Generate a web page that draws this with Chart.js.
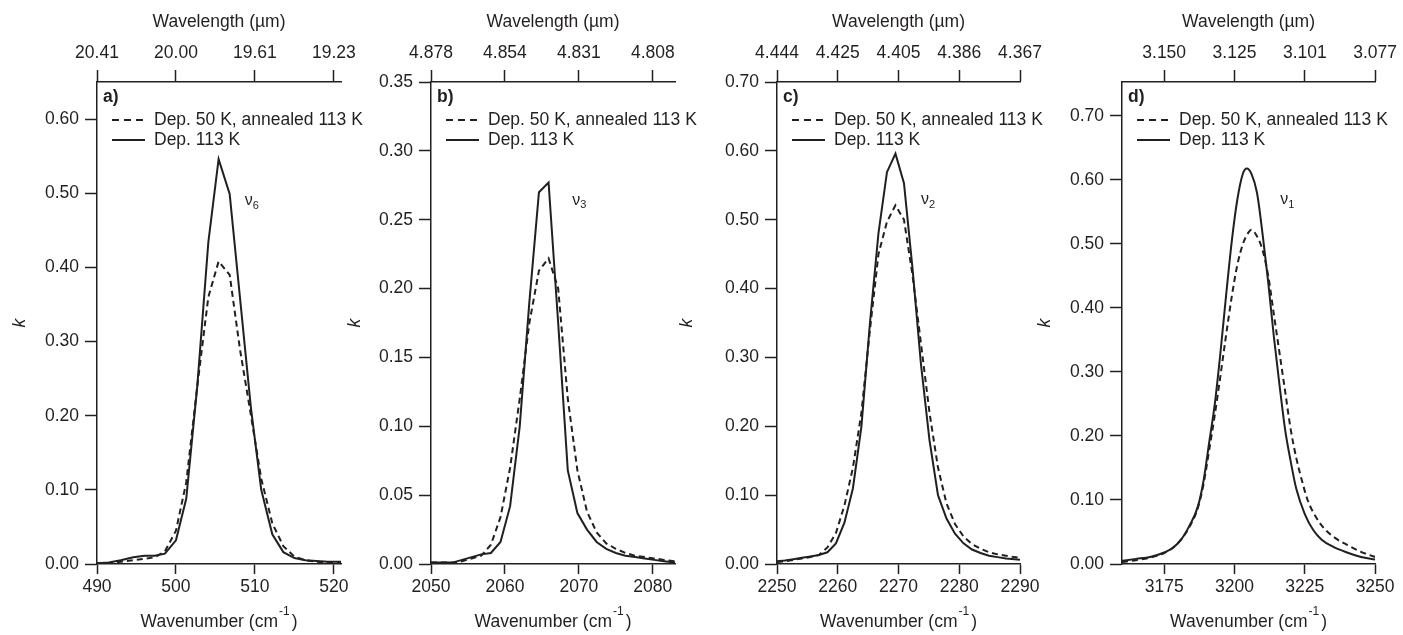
<!DOCTYPE html>
<html lang="en">
<head>
<meta charset="UTF-8">
<title>k spectra</title>
<style>
  body { margin: 0; background: #fff; }
  #wrap { position: relative; width: 1403px; height: 635px; }
  #wrap canvas { position: absolute; left: 0; top: 0; }
</style>
</head>
<body>
<div id="wrap">
  <canvas id="chartA" width="1403" height="635"></canvas>
  <canvas id="chartB" width="1403" height="635"></canvas>
  <canvas id="chartC" width="1403" height="635"></canvas>
  <canvas id="chartD" width="1403" height="635"></canvas>
</div>

<script src="https://cdn.jsdelivr.net/npm/chart.js"></script>
<script>
// ---- panel a (v6) ----
const aWn = [490.0, 491.5, 493.0, 494.6, 496.0, 497.3, 498.6, 500.0, 501.3, 502.7, 504.1, 505.4, 506.8, 508.1, 509.5, 510.8, 512.2, 513.6, 515.0, 516.4, 517.8, 519.2, 520.9];
const aAnneal = [0.001, 0.001, 0.003, 0.005, 0.007, 0.009, 0.017, 0.045, 0.11, 0.24, 0.36, 0.408, 0.39, 0.29, 0.20, 0.115, 0.055, 0.024, 0.010, 0.005, 0.003, 0.002, 0.002];
const aDep113 = [0.001, 0.002, 0.005, 0.009, 0.011, 0.011, 0.014, 0.032, 0.088, 0.24, 0.434, 0.546, 0.499, 0.36, 0.21, 0.10, 0.040, 0.016, 0.008, 0.005, 0.004, 0.003, 0.003];
const aXTicks = [490, 500, 510, 520];
const aTopLabels = ['20.41', '20.00', '19.61', '19.23'];
const aYTicks = [0, 0.1, 0.2, 0.3, 0.4, 0.5, 0.6];

// ---- panel b (v3) ----
const bWn = [2050.0, 2051.6, 2052.9, 2054.2, 2055.5, 2056.8, 2058.1, 2059.4, 2060.7, 2062.0, 2063.3, 2064.6, 2065.9, 2067.2, 2068.5, 2069.8, 2071.1, 2072.4, 2073.7, 2075.0, 2076.3, 2077.6, 2078.9, 2080.2, 2081.5, 2083.0];
const bAnneal = [0.001, 0.001, 0.001, 0.002, 0.004, 0.006, 0.014, 0.034, 0.070, 0.12, 0.175, 0.213, 0.222, 0.20, 0.12, 0.068, 0.038, 0.023, 0.015, 0.011, 0.008, 0.006, 0.005, 0.004, 0.003, 0.002];
const bDep113 = [0.001, 0.001, 0.001, 0.003, 0.005, 0.007, 0.008, 0.016, 0.042, 0.10, 0.19, 0.270, 0.277, 0.175, 0.068, 0.037, 0.025, 0.016, 0.011, 0.008, 0.006, 0.005, 0.004, 0.003, 0.002, 0.001];
const bXTicks = [2050, 2060, 2070, 2080];
const bTopLabels = ['4.878', '4.854', '4.831', '4.808'];
const bYTicks = [0, 0.05, 0.10, 0.15, 0.20, 0.25, 0.30, 0.35];

// ---- panel c (v2) ----
const cWn = [2250.0, 2251.3, 2252.7, 2254.1, 2255.5, 2256.9, 2258.3, 2259.7, 2261.1, 2262.5, 2263.9, 2265.3, 2266.7, 2268.1, 2269.5, 2270.9, 2272.3, 2273.7, 2275.1, 2276.5, 2277.9, 2279.3, 2280.7, 2282.1, 2283.5, 2284.9, 2286.3, 2287.7, 2289.1, 2290.0];
const cAnneal = [0.003, 0.004, 0.006, 0.008, 0.010, 0.013, 0.024, 0.045, 0.085, 0.14, 0.22, 0.34, 0.45, 0.497, 0.521, 0.50, 0.42, 0.32, 0.22, 0.14, 0.088, 0.058, 0.040, 0.029, 0.022, 0.017, 0.014, 0.012, 0.010, 0.009];
const cDep113 = [0.004, 0.005, 0.007, 0.009, 0.011, 0.013, 0.017, 0.030, 0.060, 0.11, 0.20, 0.35, 0.48, 0.569, 0.596, 0.553, 0.43, 0.29, 0.18, 0.10, 0.066, 0.044, 0.030, 0.021, 0.016, 0.012, 0.010, 0.008, 0.007, 0.006];
const cXTicks = [2250, 2260, 2270, 2280, 2290];
const cTopLabels = ['4.444', '4.425', '4.405', '4.386', '4.367'];
const cYTicks = [0, 0.1, 0.2, 0.3, 0.4, 0.5, 0.6, 0.7];

// ---- panel d (v1) ----
const dWnAnneal = [3160, 3165, 3170, 3175, 3178, 3181, 3184, 3187, 3189, 3191, 3193, 3195, 3197, 3199, 3201, 3203, 3205, 3206, 3208, 3210, 3212, 3214, 3216, 3218, 3220, 3222, 3224, 3226, 3229, 3232, 3236, 3240, 3245, 3250];
const dAnneal = [0.003, 0.006, 0.010, 0.017, 0.025, 0.038, 0.058, 0.088, 0.125, 0.178, 0.233, 0.294, 0.357, 0.417, 0.467, 0.500, 0.518, 0.522, 0.512, 0.490, 0.450, 0.390, 0.330, 0.270, 0.210, 0.165, 0.130, 0.100, 0.073, 0.055, 0.040, 0.030, 0.019, 0.011];
const dWnDep113 = [3160, 3165, 3170, 3175, 3178, 3181, 3184, 3187, 3189, 3191, 3193, 3195, 3197, 3199, 3201, 3203, 3204.4, 3206, 3208, 3210, 3212, 3214, 3216, 3218, 3220, 3222, 3225, 3228, 3231, 3235, 3240, 3245, 3250];
const dDep113 = [0.005, 0.008, 0.011, 0.018, 0.025, 0.038, 0.060, 0.090, 0.13, 0.19, 0.25, 0.33, 0.419, 0.503, 0.569, 0.610, 0.618, 0.61, 0.58, 0.515, 0.44, 0.355, 0.28, 0.21, 0.16, 0.117, 0.078, 0.053, 0.038, 0.027, 0.018, 0.011, 0.007];
const dXTicks = [3175, 3200, 3225, 3250];
const dTopLabels = ['3.150', '3.125', '3.101', '3.077'];
const dYTicks = [0, 0.1, 0.2, 0.3, 0.4, 0.5, 0.6, 0.7];

const legendLabels = ['Dep. 50 K, annealed 113 K', 'Dep. 113 K'];

const ink = '#231f20';
const family = '"Liberation Sans", Arial, Helvetica, sans-serif';
const fs = 17.5;

// texts drawn on top of each panel: letter, legend, band label, axis titles
function panelText(p) {
  return {
    id: 'panelText',
    afterDraw(chart) {
      const ctx = chart.ctx;
      const area = chart.chartArea;
      const cx = (area.left + area.right) / 2;
      ctx.save();
      ctx.fillStyle = ink;
      ctx.strokeStyle = ink;
      ctx.textBaseline = 'middle';

      ctx.font = fs + 'px ' + family;
      ctx.textAlign = 'center';
      ctx.fillText('Wavelength (µm)', cx, 22);

      // bottom title with superscript -1
      const main = 'Wavenumber (cm';
      const w1 = ctx.measureText(main).width;
      const w3 = ctx.measureText(')').width;
      ctx.font = '12px ' + family;
      const w2 = ctx.measureText('-1').width;
      const x0 = cx - (w1 + w2 + w3 + 3) / 2;
      ctx.textAlign = 'left';
      ctx.font = fs + 'px ' + family;
      ctx.fillText(main, x0, 622);
      ctx.font = '12px ' + family;
      ctx.fillText('-1', x0 + w1 + 1, 612);
      ctx.font = fs + 'px ' + family;
      ctx.fillText(')', x0 + w1 + w2 + 3, 622);

      // y title
      ctx.save();
      ctx.translate(area.left - p.kOffset, (area.top + area.bottom) / 2);
      ctx.rotate(-Math.PI / 2);
      ctx.textAlign = 'center';
      ctx.font = 'italic ' + fs + 'px ' + family;
      ctx.fillText('k', 0, 0);
      ctx.restore();

      // panel letter
      ctx.textAlign = 'left';
      ctx.font = 'bold ' + fs + 'px ' + family;
      ctx.fillText(p.letter, area.left + 6, area.top + 15);

      // legend
      ctx.lineWidth = 2;
      [0, 1].forEach(i => {
        const y = area.top + 38 + i * 20;
        ctx.setLineDash(i === 0 ? [7, 5] : []);
        ctx.beginPath();
        ctx.moveTo(area.left + 15, y);
        ctx.lineTo(area.left + 48, y);
        ctx.stroke();
        ctx.setLineDash([]);
        ctx.font = fs + 'px ' + family;
        ctx.fillText(legendLabels[i], area.left + 57, y);
      });

      // band label
      const bx = chart.scales.x.getPixelForValue(p.band[0]);
      const by = chart.scales.y.getPixelForValue(p.band[1]);
      ctx.font = '16px ' + family;
      ctx.fillText('ν', bx, by);
      const nw = ctx.measureText('ν').width;
      ctx.font = '11px ' + family;
      ctx.fillText(p.bandSub, bx + nw, by + 5);
      ctx.restore();
    }
  };
}

function axisStyle(len) {
  return {
    grid: { display: true, drawOnChartArea: false, tickLength: len, tickColor: ink, tickWidth: 1.5 },
    border: { display: true, color: ink, width: 1.5 }
  };
}

function makePanel(id, p) {
  new Chart(document.getElementById(id), {
    type: 'line',
    data: {
      datasets: [
        {
          label: legendLabels[0],
          data: p.wnAnneal.map((x, i) => ({ x: x, y: p.anneal[i] })),
          borderDash: [6, 4]
        },
        {
          label: legendLabels[1],
          data: p.wnDep.map((x, i) => ({ x: x, y: p.dep[i] }))
        }
      ]
    },
    options: {
      responsive: false,
      animation: false,
      layout: { padding: { left: 0, right: 1403 - p.right, top: 0, bottom: 0 } },
      plugins: { legend: { display: false }, tooltip: { enabled: false } },
      elements: {
        point: { radius: 0 },
        line: { borderWidth: 2, borderColor: ink, tension: 0, cubicInterpolationMode: p.smooth ? 'monotone' : 'default', fill: false }
      },
      scales: {
        x: Object.assign({
          type: 'linear', position: 'bottom', min: p.xMin, max: p.xMax,
          afterBuildTicks: s => { s.ticks = p.xTicks.map(v => ({ value: v })); },
          afterFit: s => { s.height = 71; },
          ticks: { color: ink, font: { family: family, size: fs }, padding: 3, autoSkip: false, maxRotation: 0, callback: v => String(v) }
        }, axisStyle(10)),
        xTop: Object.assign({
          type: 'linear', position: 'top', min: p.xMin, max: p.xMax,
          afterBuildTicks: s => { s.ticks = p.xTicks.map(v => ({ value: v })); },
          afterFit: s => { s.height = 82; },
          ticks: { color: ink, font: { family: family, size: fs }, padding: 6, autoSkip: false, maxRotation: 0, callback: (v, i) => p.topLabels[i] }
        }, axisStyle(12)),
        y: Object.assign({
          type: 'linear', position: 'left', min: 0, max: p.yMax,
          afterBuildTicks: s => { s.ticks = p.yTicks.map(v => ({ value: v })); },
          afterFit: s => { s.width = p.left; },
          ticks: { color: ink, font: { family: family, size: fs }, padding: 6, autoSkip: false, callback: v => v.toFixed(2) }
        }, axisStyle(12))
      }
    },
    plugins: [panelText(p)]
  });
}

makePanel('chartA', {
  left: 97, right: 341, xMin: 490, xMax: 520.9, yMax: 0.65,
  wnAnneal: aWn, anneal: aAnneal, wnDep: aWn, dep: aDep113,
  xTicks: aXTicks, topLabels: aTopLabels, yTicks: aYTicks,
  letter: 'a)', kOffset: 77, band: [508.7, 0.49], bandSub: '6'
});
makePanel('chartB', {
  left: 431, right: 675, xMin: 2050, xMax: 2083, yMax: 0.35,
  wnAnneal: bWn, anneal: bAnneal, wnDep: bWn, dep: bDep113,
  xTicks: bXTicks, topLabels: bTopLabels, yTicks: bYTicks,
  letter: 'b)', kOffset: 76, band: [2069.1, 0.264], bandSub: '3'
});
makePanel('chartC', {
  left: 777, right: 1020, xMin: 2250, xMax: 2290, yMax: 0.70,
  wnAnneal: cWn, anneal: cAnneal, wnDep: cWn, dep: cDep113,
  xTicks: cXTicks, topLabels: cTopLabels, yTicks: cYTicks,
  letter: 'c)', kOffset: 90, band: [2273.7, 0.529], bandSub: '2'
});
makePanel('chartD', {
  left: 1122, right: 1379, xMin: 3160, xMax: 3250, yMax: 0.753,
  wnAnneal: dWnAnneal, anneal: dAnneal, wnDep: dWnDep113, dep: dDep113,
  xTicks: dXTicks, topLabels: dTopLabels, yTicks: dYTicks,
  letter: 'd)', kOffset: 77, band: [3216.3, 0.569], bandSub: '1', smooth: true
});
</script>
</body>
</html>
